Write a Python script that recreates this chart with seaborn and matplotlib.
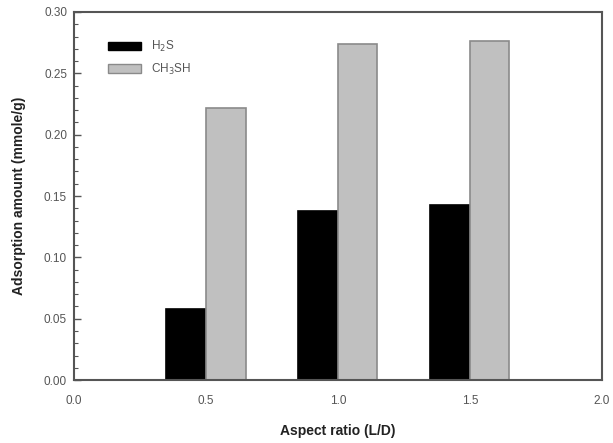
import matplotlib
matplotlib.use("Agg")
import matplotlib.pyplot as plt
from matplotlib.patches import Patch
from matplotlib.ticker import MultipleLocator
import pandas as pd
import seaborn as sns

# Adsorption amount (mmole/g) versus bed aspect ratio
aspect_ratio = [0.5, 1.0, 1.5]
h2s = [0.058, 0.138, 0.143]
ch3sh = [0.222, 0.274, 0.276]
series_names = ["H$_2$S", "CH$_3$SH"]

df = pd.DataFrame({
    "ratio": aspect_ratio * 2,
    "amount": h2s + ch3sh,
    "gas": [series_names[0]] * len(h2s) + [series_names[1]] * len(ch3sh),
})

sns.set_theme(style="white")
plt.rcParams["font.family"] = ["Liberation Sans", "DejaVu Sans"]

fig = plt.figure(figsize=(6.13, 4.43), dpi=100)
ax = fig.add_axes([0.1207, 0.142, 0.861, 0.831])

fill = {series_names[0]: "#000000", series_names[1]: "#c0c0c0"}
sns.barplot(data=df, x="ratio", y="amount", hue="gas", native_scale=True,
            palette=fill, width=0.6, dodge=True, gap=0, legend=False,
            saturation=1, ax=ax)

edges = ["#000000"] * len(h2s) + ["#8a8a8a"] * len(ch3sh)
for patch, ec in zip(ax.patches, edges):
    patch.set_edgecolor(ec)
    patch.set_linewidth(1.2)

ax.set_xlim(0, 2.0)
ax.set_ylim(0, 0.30)
ax.set_xticks([0.0, 0.5, 1.0, 1.5, 2.0])
ax.set_xticklabels(["0.0", "0.5", "1.0", "1.5", "2.0"])
ax.set_yticks([0.0, 0.05, 0.10, 0.15, 0.20, 0.25, 0.30])
ax.set_yticklabels(["0.00", "0.05", "0.10", "0.15", "0.20", "0.25", "0.30"])
ax.yaxis.set_minor_locator(MultipleLocator(0.01))

ax.tick_params(axis="y", which="major", direction="in", length=5, width=1.0,
               color="#555555", left=True, labelsize=8.5, labelcolor="#555555", pad=5)
ax.tick_params(axis="y", which="minor", direction="in", length=3, width=0.8,
               color="#555555", left=True)
ax.tick_params(axis="x", which="both", bottom=False, labelsize=8.5,
               labelcolor="#555555", pad=5)

for side in ["left", "right", "top", "bottom"]:
    ax.spines[side].set_visible(True)
    ax.spines[side].set_color("#555555")
    ax.spines[side].set_linewidth(1.5)

ax.set_xlabel("Aspect ratio (L/D)", fontsize=10, fontweight="bold",
              color="#222222", labelpad=12)
ax.set_ylabel("Adsorption amount (mmole/g)", fontsize=10, fontweight="bold",
              color="#222222", labelpad=13)

handles = [Patch(facecolor=fill[series_names[0]], edgecolor="#000000", linewidth=1.0),
           Patch(facecolor=fill[series_names[1]], edgecolor="#8a8a8a", linewidth=1.0)]
ax.legend(handles, series_names, loc="upper left", bbox_to_anchor=(0.045, 0.955),
          frameon=False, fontsize=8.5, labelcolor="#555555",
          handlelength=2.8, handleheight=0.75, handletextpad=0.8, labelspacing=0.65)

fig.savefig("out.png", dpi=100)
